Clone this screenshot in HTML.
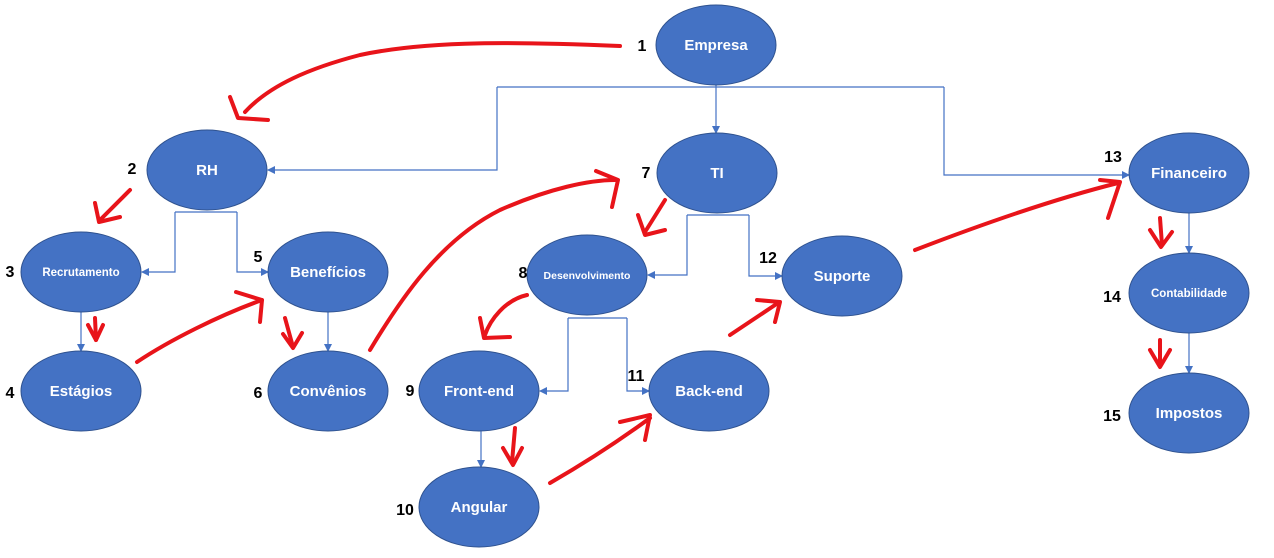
<!DOCTYPE html>
<html><head><meta charset="utf-8"><style>
html,body{margin:0;padding:0;background:#fff;}
svg{display:block;}
text{font-family:"Liberation Sans",Arial,sans-serif;font-weight:bold;}
.n{fill:#4472C4;stroke:#2F528F;stroke-width:1;}
.t{fill:#fff;font-size:15px;text-anchor:middle;dominant-baseline:middle;}
.s{font-size:11.5px;}
.num{fill:#000;font-size:16px;text-anchor:middle;dominant-baseline:middle;}
.c{stroke:#4472C4;stroke-width:1.2;fill:none;}
.r{stroke:#E8141A;stroke-width:4;fill:none;stroke-linecap:round;stroke-linejoin:round;}
</style></head><body>
<svg width="1274" height="558" viewBox="0 0 1274 558">
<defs><marker id="a" markerWidth="8" markerHeight="8" refX="7" refY="4" orient="auto" markerUnits="userSpaceOnUse"><path d="M0,0 L8,4 L0,8 z" fill="#4472C4"/></marker></defs>
<!-- connectors -->
<path class="c" d="M716,85 V133" marker-end="url(#a)"/>
<path class="c" d="M497,87 H944"/>
<path class="c" d="M497,87 V170 H268" marker-end="url(#a)"/>
<path class="c" d="M944,87 V175 H1129" marker-end="url(#a)"/>
<path class="c" d="M175,212 H237"/>
<path class="c" d="M175,212 V272 H142" marker-end="url(#a)"/>
<path class="c" d="M237,212 V272 H268" marker-end="url(#a)"/>
<path class="c" d="M687,215 H749"/>
<path class="c" d="M687,215 V275 H648" marker-end="url(#a)"/>
<path class="c" d="M749,215 V276 H782" marker-end="url(#a)"/>
<path class="c" d="M81,312 V351" marker-end="url(#a)"/>
<path class="c" d="M328,312 V351" marker-end="url(#a)"/>
<path class="c" d="M568,318 H627"/>
<path class="c" d="M568,318 V391 H540" marker-end="url(#a)"/>
<path class="c" d="M627,318 V391 H649" marker-end="url(#a)"/>
<path class="c" d="M481,431 V467" marker-end="url(#a)"/>
<path class="c" d="M1189,213 V253" marker-end="url(#a)"/>
<path class="c" d="M1189,333 V373" marker-end="url(#a)"/>
<!-- nodes -->
<ellipse class="n" cx="716" cy="45" rx="60" ry="40"/><text class="t" x="716" y="46">Empresa</text>
<ellipse class="n" cx="207" cy="170" rx="60" ry="40"/><text class="t" x="207" y="171">RH</text>
<ellipse class="n" cx="717" cy="173" rx="60" ry="40"/><text class="t" x="717" y="174">TI</text>
<ellipse class="n" cx="1189" cy="173" rx="60" ry="40"/><text class="t" x="1189" y="174">Financeiro</text>
<ellipse class="n" cx="81" cy="272" rx="60" ry="40"/><text class="t s" x="81" y="273">Recrutamento</text>
<ellipse class="n" cx="328" cy="272" rx="60" ry="40"/><text class="t" x="328" y="273">Benefícios</text>
<ellipse class="n" cx="587" cy="275" rx="60" ry="40"/><text class="t s" x="587" y="276" style="font-size:10.5px">Desenvolvimento</text>
<ellipse class="n" cx="842" cy="276" rx="60" ry="40"/><text class="t" x="842" y="277">Suporte</text>
<ellipse class="n" cx="1189" cy="293" rx="60" ry="40"/><text class="t s" x="1189" y="294">Contabilidade</text>
<ellipse class="n" cx="81" cy="391" rx="60" ry="40"/><text class="t" x="81" y="392">Estágios</text>
<ellipse class="n" cx="328" cy="391" rx="60" ry="40"/><text class="t" x="328" y="392">Convênios</text>
<ellipse class="n" cx="479" cy="391" rx="60" ry="40"/><text class="t" x="479" y="392">Front-end</text>
<ellipse class="n" cx="709" cy="391" rx="60" ry="40"/><text class="t" x="709" y="392">Back-end</text>
<ellipse class="n" cx="1189" cy="413" rx="60" ry="40"/><text class="t" x="1189" y="414">Impostos</text>
<ellipse class="n" cx="479" cy="507" rx="60" ry="40"/><text class="t" x="479" y="508">Angular</text>
<!-- numbers -->
<text class="num" x="642" y="47">1</text>
<text class="num" x="132" y="170">2</text>
<text class="num" x="10" y="273">3</text>
<text class="num" x="10" y="394">4</text>
<text class="num" x="258" y="258">5</text>
<text class="num" x="258" y="394">6</text>
<text class="num" x="646" y="174">7</text>
<text class="num" x="523" y="274">8</text>
<text class="num" x="410" y="392">9</text>
<text class="num" x="405" y="511">10</text>
<text class="num" x="636" y="377">11</text>
<text class="num" x="768" y="259">12</text>
<text class="num" x="1113" y="158">13</text>
<text class="num" x="1112" y="298">14</text>
<text class="num" x="1112" y="417">15</text>
<!-- red arrows -->
<path class="r" d="M620,46 C520,42 430,40 360,55 C310,68 270,85 245,112"/>
<path class="r" d="M230,97 L238,118 L268,120"/>
<path class="r" d="M130,190 C120,200 110,210 100,220"/>
<path class="r" d="M95,203 L99,222 L120,217"/>
<path class="r" d="M95,318 L96,340"/>
<path class="r" d="M88,325 L96,340 L103,325"/>
<path class="r" d="M137,362 C170,340 220,315 262,300"/>
<path class="r" d="M236,292 L262,300 L260,322"/>
<path class="r" d="M285,318 L293,347"/>
<path class="r" d="M283,334 L293,348 L302,333"/>
<path class="r" d="M370,350 C400,300 440,240 500,210 C550,188 590,180 615,180"/>
<path class="r" d="M596,171 L618,180 L612,207"/>
<path class="r" d="M665,200 L645,232"/>
<path class="r" d="M638,215 L645,235 L665,230"/>
<path class="r" d="M527,295 C505,300 490,320 485,335"/>
<path class="r" d="M480,318 L484,338 L510,337"/>
<path class="r" d="M515,428 L512,462"/>
<path class="r" d="M503,448 L513,465 L522,448"/>
<path class="r" d="M550,483 C590,460 620,440 650,418"/>
<path class="r" d="M620,422 L650,415 L645,440"/>
<path class="r" d="M730,335 L778,303"/>
<path class="r" d="M757,300 L780,302 L775,322"/>
<path class="r" d="M915,250 C980,225 1050,200 1118,183"/>
<path class="r" d="M1100,180 L1120,182 L1108,218"/>
<path class="r" d="M1160,218 L1162,245"/>
<path class="r" d="M1150,230 L1161,247 L1172,232"/>
<path class="r" d="M1160,340 L1160,365"/>
<path class="r" d="M1150,350 L1160,367 L1170,350"/>
</svg>
</body></html>
